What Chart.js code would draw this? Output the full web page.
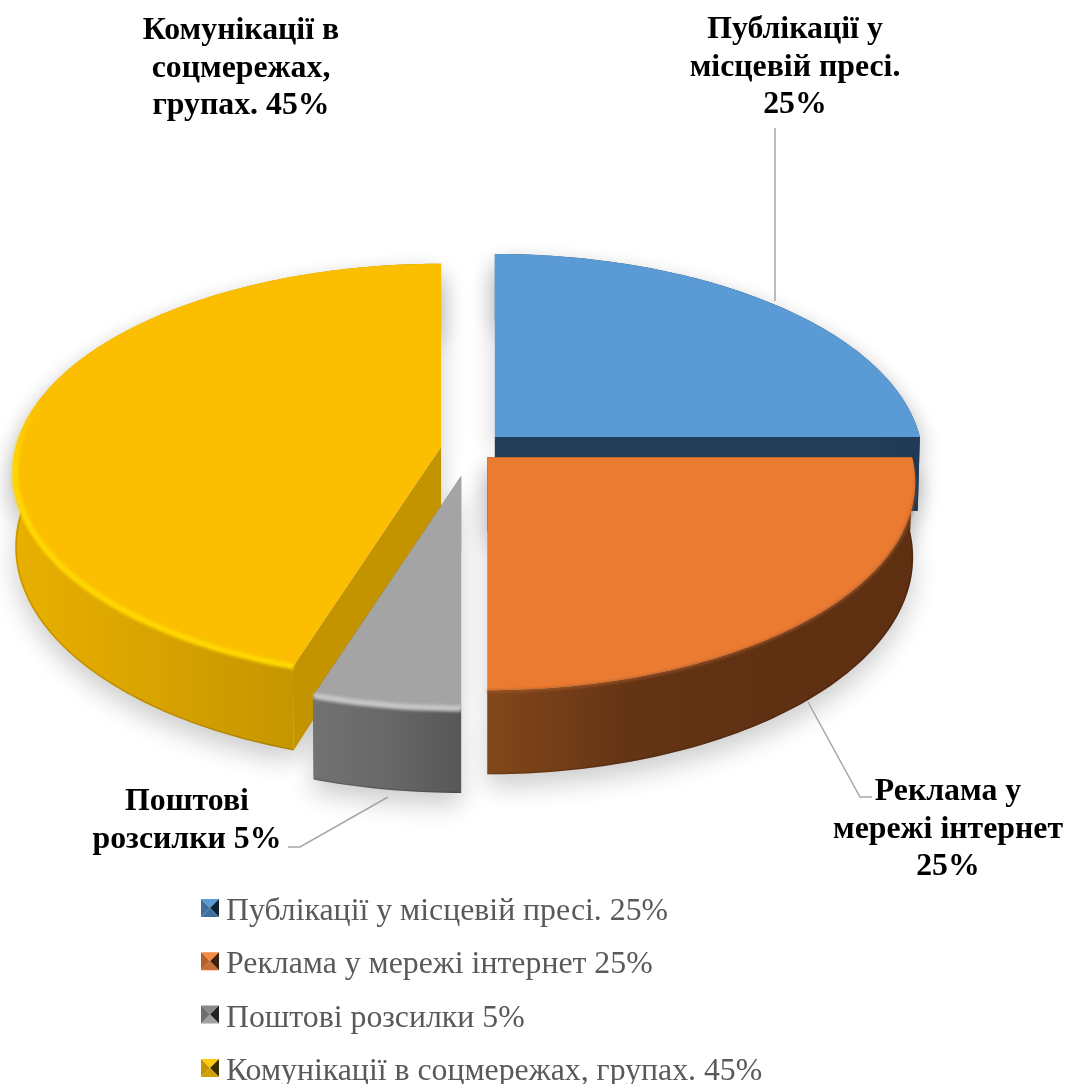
<!DOCTYPE html>
<html>
<head>
<meta charset="utf-8">
<title>Pie</title>
<script src="https://cdn.jsdelivr.net/npm/chart.js@4"></script>
<style>
  html, body { margin: 0; padding: 0; background: #fff; }
  canvas { display: block; }
</style>
</head>
<body>
<canvas id="myChart" width="1076" height="1084"></canvas>
<script>
//Data
const categories = ['Публікації у місцевій пресі.', 'Реклама у мережі інтернет', 'Поштові розсилки', 'Комунікації в соцмережах, групах.'];
const values = [25, 25, 5, 45];
const labelLines = [
  ['Публікації у', 'місцевій пресі.', '25%'],
  ['Реклама у', 'мережі інтернет', '25%'],
  ['Поштові', 'розсилки 5%'],
  ['Комунікації в', 'соцмережах,', 'групах. 45%']
];

//Slice styles
const topColors = ['#5B9BD5', '#EB7B31', '#A4A4A4', '#FBBE00'];
const cutColors = ['#223D57', '#6A3715', '#6A6A6A', '#C39300'];
const wallStops = [
  ['#2A4C6C', '#1F3A54'],
  ['#83471B', '#643414', '#5F3012', '#5E3011'],
  ['#727272', '#686868', '#575757'],
  ['#E8B000', '#D9A300', '#C59500', '#AC8200']
];
const rimColors = ['#5B9BD5', '#A8592A', '#C6C6C6', '#FFD800'];
const rimFade = ['rgba(91,155,213,0)', 'rgba(168,89,42,0)', 'rgba(198,198,198,0)', 'rgba(255,216,0,0)'];
const rimWidths = [0, 2, 6, 6];
const legendKeys = [
  ['#5B9BD5', '#3D6E9C', '#0F2233', '#3F6F9C'],
  ['#F58A42', '#B5602A', '#3E2010', '#C97030'],
  ['#8A8A8A', '#6E6E6E', '#222222', '#A0A0A0'],
  ['#FFCB10', '#C49500', '#3A2D00', '#D0A000']
];

//Labels placement: center x, first baseline
const labelPos = [[795, 38], [948, 800], [187, 810], [241, 39]];
const leaderLines = [
  [[775, 301], [775, 128]],
  [[808, 702], [860, 797], [872, 797]],
  [[388, 797], [300, 847], [288, 847]]
];

//Tilted view of the pie plane
const viewX = 425;
const viewY = 205;
const tilt = 0.12;
const depth = 74;
const bottomShrink = 0.005;

function view(nu, nv, z) {
  const w = 1 - tilt * nv;
  return [viewX * nu * (1 - bottomShrink * z) / w, (viewY * nv + depth * z) / w];
}

//Each slice keeps its own apex so its straight edges stay vertical or level
function project(arc, angle, radius, z) {
  const mid = (arc.startAngle + arc.endAngle) / 2;
  const off = arc.options.offset / arc.outerRadius;
  const apex = view(Math.cos(mid) * off, Math.sin(mid) * off, 0);
  const r = radius / arc.outerRadius;
  const p = view(Math.cos(angle) * r, Math.sin(angle) * r, z);
  return [arc.x + apex[0] + p[0], arc.y + apex[1] + p[1]];
}

function arcPoints(arc, from, to, radius, z) {
  const pts = [];
  const steps = Math.max(4, Math.ceil(Math.abs(to - from) * 60));
  for (let i = 0; i <= steps; i++) {
    pts.push(project(arc, from + (to - from) * i / steps, radius, z));
  }
  return pts;
}

function tracePoly(ctx, pts) {
  ctx.beginPath();
  pts.forEach((p, i) => i ? ctx.lineTo(p[0], p[1]) : ctx.moveTo(p[0], p[1]));
  ctx.closePath();
}

function traceLine(ctx, pts) {
  ctx.beginPath();
  pts.forEach((p, i) => i ? ctx.lineTo(p[0], p[1]) : ctx.moveTo(p[0], p[1]));
}

function topFace(arc) {
  return [project(arc, 0, 0, 0)].concat(arcPoints(arc, arc.startAngle, arc.endAngle, arc.outerRadius, 0));
}

function wallFace(arc) {
  const up = arcPoints(arc, arc.startAngle, arc.endAngle, arc.outerRadius, 0);
  const down = arcPoints(arc, arc.endAngle, arc.startAngle, arc.outerRadius, 1);
  return up.concat(down);
}

function cutFace(arc, angle) {
  return [
    project(arc, 0, 0, 0),
    project(arc, angle, arc.outerRadius, 0),
    project(arc, angle, arc.outerRadius, 1),
    project(arc, 0, 0, 1)
  ];
}

function drawShadow(ctx, arc) {
  ctx.save();
  ctx.translate(-3000, 0);
  ctx.shadowColor = 'rgba(0,0,0,0.2)';
  ctx.shadowBlur = 26;
  ctx.shadowOffsetX = 3000;
  ctx.shadowOffsetY = 12;
  ctx.fillStyle = '#000';
  tracePoly(ctx, topFace(arc));
  ctx.fill();
  tracePoly(ctx, wallFace(arc));
  ctx.fill();
  tracePoly(ctx, cutFace(arc, arc.startAngle));
  ctx.fill();
  ctx.restore();
}

function drawRim(ctx, arc, i, from, to) {
  const pts = arcPoints(arc, from, to, arc.outerRadius - (i === 1 ? 0 : 2), 0.01);
  const ys = pts.map(p => p[1]);
  const minY = Math.min(...ys);
  const maxY = Math.max(...ys);
  ctx.save();
  ctx.filter = 'blur(1.5px)';
  ctx.lineWidth = rimWidths[i];
  if (maxY - minY > 100) {
    //fade the bevel out where the rim turns away
    const fade = ctx.createLinearGradient(0, minY, 0, minY + 70);
    fade.addColorStop(0, rimFade[i]);
    fade.addColorStop(1, rimColors[i]);
    ctx.strokeStyle = fade;
  } else {
    ctx.strokeStyle = rimColors[i];
  }
  traceLine(ctx, pts);
  ctx.stroke();
  ctx.restore();
}

function drawSlice(ctx, arc, i) {
  //Cut faces first, the top covers what faces away
  ctx.fillStyle = cutColors[i];
  [arc.startAngle, arc.endAngle].forEach(a => {
    //an edge running straight back has no visible face
    if (Math.sin(a) < -0.99) return;
    tracePoly(ctx, cutFace(arc, a));
    ctx.fill();
  });

  //Outer wall
  const wall = wallFace(arc);
  const xs = wall.map(p => p[0]);
  const grad = ctx.createLinearGradient(Math.min(...xs), 0, Math.max(...xs), 0);
  const stops = wallStops[i];
  stops.forEach((c, n) => grad.addColorStop(n / (stops.length - 1), c));
  ctx.fillStyle = grad;
  tracePoly(ctx, wall);
  ctx.fill();

  //Dark line under the wall
  const lowA = Math.max(arc.startAngle, -0.1);
  const lowB = Math.min(arc.endAngle, Math.PI + 0.25);
  if (lowB > lowA) {
    ctx.strokeStyle = 'rgba(0,0,0,0.14)';
    ctx.lineWidth = 1.5;
    traceLine(ctx, arcPoints(arc, lowA, lowB, arc.outerRadius - 1, 1));
    ctx.stroke();
  }

  //Top
  ctx.fillStyle = arc.options.backgroundColor;
  tracePoly(ctx, topFace(arc));
  ctx.fill();

  //Soft bevel on the near rim
  if (lowB > lowA && rimWidths[i]) drawRim(ctx, arc, i, lowA, lowB);
}

function drawLegendKey(ctx, x, y, s, colors) {
  const c = [x + s / 2, y + s / 2];
  const corners = [[x, y], [x + s, y], [x + s, y + s], [x, y + s]];
  const faces = [0, 2, 3, 1];
  for (let i = 0; i < 4; i++) {
    ctx.fillStyle = colors[faces[i]];
    tracePoly(ctx, [corners[i], corners[(i + 1) % 4], c]);
    ctx.fill();
  }
}

const pie3d = {
  id: 'pie3d',
  beforeDatasetsDraw(chart) {
    const ctx = chart.ctx;
    const arcs = chart.getDatasetMeta(0).data;
    const order = arcs.map((a, i) => i).sort((p, q) => {
      const mp = (arcs[p].startAngle + arcs[p].endAngle) / 2;
      const mq = (arcs[q].startAngle + arcs[q].endAngle) / 2;
      return Math.sin(mp) - Math.sin(mq);
    });
    order.forEach(i => drawShadow(ctx, arcs[i]));
    order.forEach(i => drawSlice(ctx, arcs[i], i));
    return false;
  },
  afterDraw(chart) {
    const ctx = chart.ctx;
    ctx.save();

    //Leader lines
    ctx.strokeStyle = '#A6A6A6';
    ctx.lineWidth = 1.5;
    leaderLines.forEach(line => {
      traceLine(ctx, line);
      ctx.stroke();
    });

    //Slice labels
    ctx.fillStyle = '#000';
    ctx.font = 'bold 31.8px "Liberation Serif"';
    ctx.textAlign = 'center';
    ctx.textBaseline = 'alphabetic';
    labelLines.forEach((lines, i) => {
      lines.forEach((t, n) => ctx.fillText(t, labelPos[i][0], labelPos[i][1] + n * 37.5));
    });

    //Legend
    ctx.font = '31.8px "Liberation Serif"';
    ctx.textAlign = 'left';
    categories.forEach((c, i) => {
      const y = 899 + i * 53.3;
      drawLegendKey(ctx, 201, y, 18, legendKeys[i]);
      ctx.fillStyle = '#595959';
      ctx.fillText(c + ' ' + values[i] + '%', 226, y + 21);
    });
    ctx.restore();
  }
};

var myChart = new Chart('myChart', {
  type: 'pie',
  data: {
    labels: categories,
    datasets: [{
      data: values,
      backgroundColor: topColors,
      borderWidth: 0,
      offset: [35, 24, 55, 29]
    }]
  },
  options: {
    responsive: false,
    animation: false,
    events: [],
    layout: { padding: { left: 22, right: 158, top: 0, bottom: 186 } },
    plugins: {
      legend: { display: false },
      tooltip: { enabled: false }
    }
  },
  plugins: [pie3d]
});
</script>
</body>
</html>
